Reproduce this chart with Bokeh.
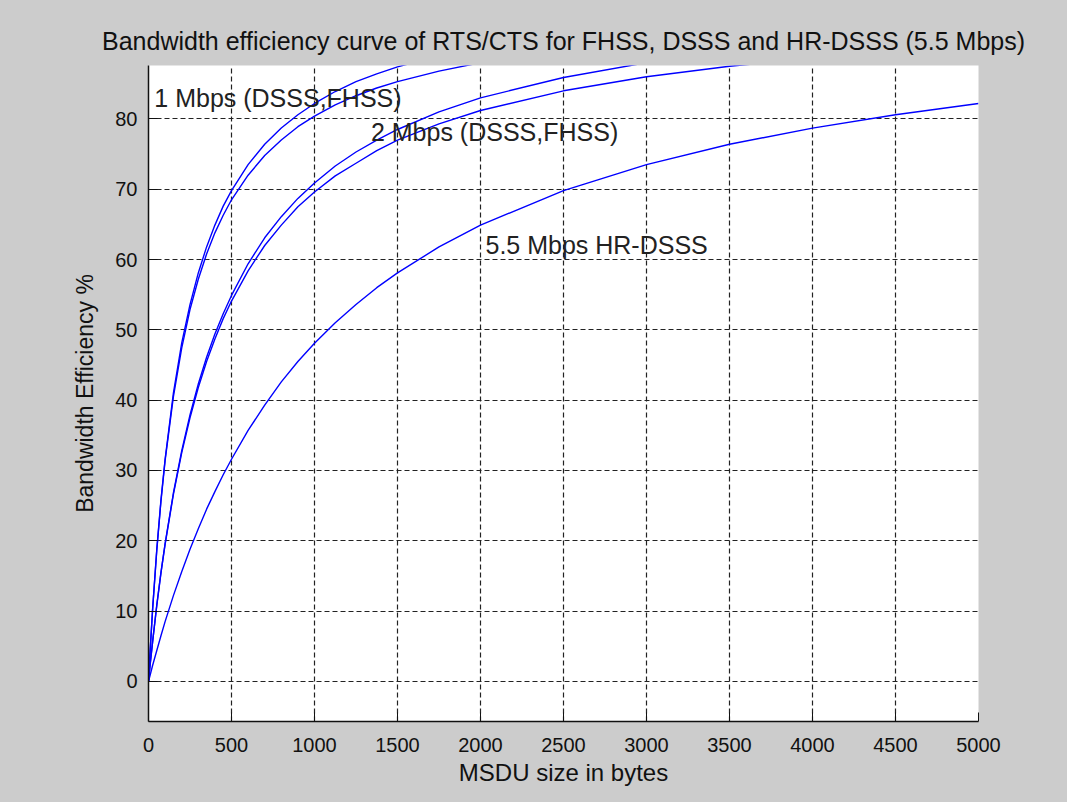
from bokeh.plotting import figure
from bokeh.models import FixedTicker, Range1d, Label, GlobalInlineStyleSheet
from bokeh.embed import file_html
from bokeh.resources import INLINE

# ---- data ----
msdu = [0, 10, 25, 50, 75, 100, 150, 200, 250, 300,
        350, 400, 450, 500, 600, 700, 800, 900, 1000,
        1125, 1250, 1375, 1500, 1750, 2000,
        2500, 3000, 3500, 4000, 4500, 5000]

dsss_1 = [0, 4.4, 10.4, 18.8, 25.8, 31.6, 41.0, 48.1, 53.6, 58.1,
          61.8, 64.9, 67.6, 69.8, 73.5, 76.4, 78.7, 80.6, 82.2,
          83.9, 85.3, 86.4, 87.4, 89.0, 90.3,
          92.0, 93.3, 94.2, 94.9, 95.4, 95.9]
fhss_1 = [0, 4.4, 10.3, 18.7, 25.6, 31.4, 40.5, 47.4, 52.9, 57.2,
          60.8, 63.8, 66.3, 68.5, 72.0, 74.8, 77.0, 78.9, 80.4,
          82.0, 83.3, 84.4, 85.3, 86.8, 88.0,
          89.7, 90.9, 91.8, 92.4, 92.9, 93.4]
dsss_2 = [0, 2.4, 5.7, 10.9, 15.5, 19.6, 26.8, 32.8, 37.9, 42.3,
          46.1, 49.4, 52.3, 54.9, 59.4, 63.1, 66.1, 68.7, 70.9,
          73.3, 75.3, 77.0, 78.5, 81.0, 83.0,
          85.9, 88.0, 89.5, 90.7, 91.6, 92.4]
fhss_2 = [0, 2.4, 5.7, 10.8, 15.4, 19.5, 26.6, 32.5, 37.5, 41.8,
          45.5, 48.7, 51.6, 54.1, 58.4, 62.0, 64.9, 67.5, 69.6,
          71.9, 73.7, 75.5, 77.0, 79.3, 81.2,
          84.0, 86.0, 87.5, 88.6, 89.4, 90.3]
hr_55 = [0, 0.9, 2.3, 4.4, 6.5, 8.5, 12.2, 15.6, 18.8, 21.7,
         24.5, 27.0, 29.4, 31.6, 35.7, 39.3, 42.6, 45.5, 48.1,
         51.0, 53.6, 56.0, 58.1, 61.8, 64.9,
         69.8, 73.5, 76.4, 78.7, 80.6, 82.2]

series = [dsss_1, fhss_1, dsss_2, fhss_2, hr_55]

x_ticks = [0, 500, 1000, 1500, 2000, 2500, 3000, 3500, 4000, 4500, 5000]
y_ticks = [0, 10, 20, 30, 40, 50, 60, 70, 80]

label_text = ["1 Mbps (DSSS,FHSS)", "2 Mbps (DSSS,FHSS)", "5.5 Mbps HR-DSSS"]
label_x = [35, 1340, 2030]
label_y = [83.0, 78.2, 62.0]

title_text = "Bandwidth efficiency curve of RTS/CTS for FHSS, DSSS and HR-DSSS (5.5 Mbps)"
x_label = "MSDU size in bytes"
y_label = "Bandwidth Efficiency %"

FONT = "Liberation Sans"
GRAY = "#cccccc"

p = figure(width=1067, height=802, output_backend="svg", toolbar_location=None,
           x_range=Range1d(0, 5000), y_range=Range1d(-5.7, 87.6),
           min_border_left=148, min_border_right=89, min_border_top=65, min_border_bottom=81)

p.stylesheets = [GlobalInlineStyleSheet(css="html, body { background-color: #cccccc; }")]

p.background_fill_color = "white"
p.border_fill_color = GRAY
p.outline_line_color = None

p.title.text = title_text
p.title.align = "center"
p.title.text_font = FONT
p.title.text_font_size = "25px"
p.title.text_font_style = "normal"
p.title.text_color = "#111111"
p.title.standoff = 21

for ys in series:
    p.line(msdu, ys, line_color="#0000ff", line_width=1.4)

for t, lx, ly in zip(label_text, label_x, label_y):
    p.add_layout(Label(x=lx, y=ly, text=t, text_font=FONT, text_font_size="25px",
                       text_color="#222222", text_baseline="middle", text_align="left"))

for ax in (p.xaxis[0], p.yaxis[0]):
    ax.axis_line_color = "#111111"
    ax.axis_line_width = 1.5
    ax.major_tick_in = 9
    ax.major_tick_out = 0
    ax.major_tick_line_color = "#111111"
    ax.minor_tick_line_color = None
    ax.major_label_text_font = FONT
    ax.major_label_text_font_size = "20px"
    ax.major_label_text_color = "#111111"
    ax.axis_label_text_font = FONT
    ax.axis_label_text_font_style = "normal"
    ax.axis_label_text_color = "#111111"

p.xaxis[0].axis_label_text_font_size = "24px"
p.yaxis[0].axis_label_text_font_size = "23px"
p.xaxis[0].ticker = FixedTicker(ticks=x_ticks)
p.yaxis[0].ticker = FixedTicker(ticks=y_ticks)
p.xaxis[0].axis_label = x_label
p.yaxis[0].axis_label = y_label
p.xaxis[0].major_label_standoff = 16
p.yaxis[0].major_label_standoff = 11
p.xaxis[0].axis_label_standoff = 4
p.yaxis[0].axis_label_standoff = 14

for g, tk in ((p.xgrid[0], x_ticks), (p.ygrid[0], y_ticks)):
    g.ticker = FixedTicker(ticks=tk)
    g.grid_line_color = "#222222"
    g.grid_line_dash = "5 3"
    g.grid_line_width = 1.2
    g.grid_line_alpha = 1.0

open("out.html", "w").write(file_html(p, INLINE))
